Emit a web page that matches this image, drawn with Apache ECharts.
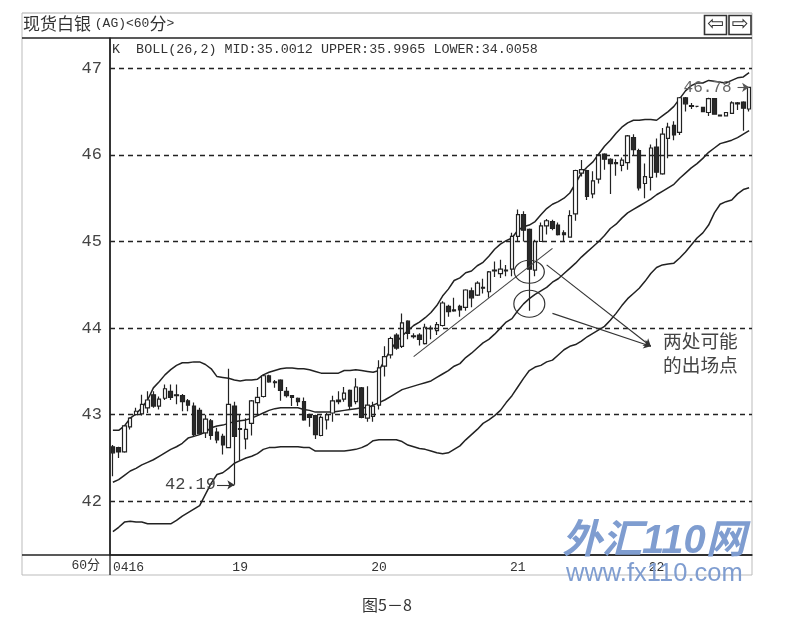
<!DOCTYPE html>
<html><head><meta charset="utf-8">
<style>html,body{margin:0;padding:0;background:#fff}#c{width:806px;height:636px}</style>
<script src="https://cdn.jsdelivr.net/npm/echarts@6/dist/echarts.min.js"></script>
</head><body><div id="c"></div>
<script>
const open=[42.63,42.62,42.57,42.86,43.00,43.01,43.08,43.23,43.10,43.19,43.27,43.23,43.22,43.16,43.10,43.05,42.79,42.93,42.80,42.75,
42.62,43.10,42.83,42.72,42.90,43.14,43.21,43.45,43.38,43.40,43.27,43.22,43.19,43.15,43.00,42.99,42.76,42.94,43.02,43.17,
43.18,43.28,43.15,43.31,42.96,42.98,43.11,43.56,43.69,43.92,43.79,44.08,43.91,43.92,43.82,44.00,43.97,44.03,44.25,44.21,
44.25,44.24,44.43,44.38,44.47,44.42,44.67,44.63,44.67,44.68,45.06,45.31,45.14,44.67,45.00,45.18,45.23,45.19,45.10,45.05,
45.32,45.79,45.82,45.55,45.72,46.01,45.95,45.91,45.88,45.91,46.20,46.05,45.67,45.74,46.09,45.78,46.19,46.34,46.26,46.66,
46.57,46.56,46.55,46.49,46.65,46.46,46.45,46.48,46.60,46.61,46.53];
const close=[42.56,42.57,42.87,42.96,43.04,43.12,43.17,43.10,43.18,43.30,43.20,43.22,43.15,43.11,42.77,42.78,42.95,42.76,42.71,42.65,
43.12,42.75,42.84,42.83,43.16,43.20,43.45,43.38,43.37,43.28,43.22,43.20,43.15,42.94,42.97,42.77,42.97,43.00,43.16,43.15,
43.25,43.10,43.32,42.97,43.11,43.10,43.54,43.67,43.88,43.77,44.06,43.94,43.90,43.87,44.01,43.99,44.04,44.29,44.19,44.20,
44.21,44.44,44.35,44.52,44.46,44.65,44.66,44.68,44.66,45.06,45.31,45.13,44.68,45.00,45.18,45.24,45.15,45.08,45.08,45.30,
45.82,45.83,45.52,45.70,46.00,45.95,45.90,45.90,45.94,46.22,46.06,45.62,45.75,46.08,45.80,46.24,46.32,46.23,46.66,46.59,
46.56,46.56,46.50,46.65,46.47,46.45,46.49,46.60,46.59,46.54,46.78];
const low=[42.29,42.50,42.56,42.83,42.99,42.99,43.02,43.08,43.06,43.17,43.17,43.12,43.04,43.04,42.75,42.77,42.73,42.71,42.67,42.54,
42.62,42.19,42.47,42.60,42.76,43.00,43.20,43.37,43.31,43.16,43.20,43.10,43.10,42.93,42.86,42.72,42.75,42.83,42.92,43.12,
43.15,43.06,43.12,42.96,42.92,42.92,43.06,43.44,43.65,43.75,43.77,43.87,43.88,43.80,43.81,43.87,43.92,44.02,44.13,44.19,
44.13,44.20,44.24,44.37,44.40,44.35,44.59,44.58,44.60,44.60,45.00,45.00,44.20,44.60,45.00,45.08,45.13,45.07,45.00,45.05,
45.24,45.75,45.48,45.50,45.67,45.83,45.55,45.76,45.81,45.83,46.00,45.59,45.50,45.59,45.74,45.77,45.96,46.17,46.23,46.50,
46.53,46.55,46.50,46.45,46.47,46.45,46.45,46.48,46.52,46.28,46.50];
const high=[42.65,42.63,42.88,42.97,43.08,43.23,43.27,43.27,43.21,43.35,43.35,43.35,43.24,43.18,43.14,43.08,43.00,42.95,42.85,42.78,
43.53,43.15,43.00,42.96,43.17,43.32,43.47,43.46,43.40,43.41,43.32,43.22,43.20,43.20,43.01,43.00,42.99,43.02,43.22,43.27,
43.32,43.29,43.42,43.32,43.33,43.15,43.63,43.79,43.90,43.94,44.17,44.09,43.94,43.94,44.05,44.03,44.07,44.31,44.27,44.35,
44.27,44.45,44.47,44.54,44.57,44.66,44.77,44.79,44.73,45.10,45.37,45.35,45.15,45.02,45.22,45.26,45.25,45.22,45.13,45.36,
45.83,45.94,45.83,45.81,46.01,46.02,45.96,45.95,45.97,46.23,46.24,46.07,45.90,46.12,46.19,46.31,46.37,46.39,46.67,46.67,
46.60,46.56,46.55,46.66,46.65,46.46,46.49,46.62,46.61,46.62,46.78];
const upper=[42.82,42.82,42.87,42.96,43.01,43.08,43.17,43.31,43.38,43.46,43.52,43.57,43.60,43.60,43.61,43.61,43.58,43.53,43.44,43.43,
43.42,43.40,43.39,43.40,43.40,43.41,43.46,43.49,43.51,43.53,43.54,43.54,43.53,43.53,43.52,43.50,43.48,43.48,43.48,43.48,
43.51,43.51,43.52,43.51,43.50,43.49,43.51,43.63,43.75,43.84,43.91,43.97,44.03,44.07,44.12,44.18,44.26,44.37,44.45,44.55,
44.58,44.64,44.66,44.72,44.76,44.83,44.91,44.97,45.01,45.04,45.13,45.17,45.19,45.23,45.31,45.38,45.43,45.46,45.50,45.56,
45.67,45.79,45.86,45.92,46.01,46.10,46.17,46.25,46.32,46.37,46.40,46.40,46.41,46.41,46.40,46.45,46.50,46.56,46.65,46.74,
46.80,46.83,46.83,46.86,46.85,46.84,46.83,46.86,46.89,46.90,46.95];
const mid=[42.22,42.25,42.30,42.35,42.38,42.42,42.45,42.48,42.52,42.56,42.60,42.63,42.67,42.73,42.75,42.77,42.80,42.85,42.87,42.88,
42.90,42.92,42.93,42.94,42.96,42.99,43.02,43.05,43.07,43.08,43.08,43.08,43.08,43.06,43.05,43.03,43.03,43.03,43.03,43.04,
43.05,43.06,43.07,43.08,43.08,43.11,43.14,43.17,43.21,43.25,43.29,43.31,43.33,43.35,43.37,43.39,43.43,43.47,43.51,43.56,
43.59,43.66,43.71,43.77,43.83,43.87,43.93,44.00,44.07,44.11,44.20,44.28,44.34,44.39,44.43,44.47,44.53,44.57,44.63,44.69,
44.75,44.82,44.88,44.94,45.00,45.07,45.15,45.20,45.27,45.33,45.37,45.41,45.45,45.49,45.54,45.58,45.62,45.66,45.73,45.79,
45.85,45.90,45.96,46.03,46.08,46.13,46.15,46.17,46.20,46.24,46.28];
const lower=[41.65,41.70,41.76,41.77,41.76,41.76,41.74,41.74,41.74,41.74,41.74,41.78,41.83,41.87,41.91,41.95,42.08,42.21,42.31,42.33,
42.38,42.44,42.47,42.50,42.52,42.55,42.60,42.62,42.62,42.63,42.63,42.63,42.63,42.62,42.62,42.58,42.58,42.58,42.58,42.58,
42.58,42.59,42.60,42.62,42.65,42.70,42.71,42.71,42.71,42.71,42.69,42.65,42.63,42.61,42.60,42.58,42.56,42.55,42.56,42.60,
42.64,42.71,42.77,42.83,42.90,42.94,42.99,43.05,43.14,43.22,43.32,43.42,43.51,43.55,43.57,43.61,43.63,43.69,43.75,43.79,
43.81,43.85,43.90,43.94,43.98,44.02,44.09,44.17,44.26,44.34,44.40,44.46,44.54,44.63,44.70,44.73,44.74,44.75,44.81,44.88,
44.96,45.04,45.10,45.19,45.33,45.43,45.46,45.48,45.55,45.60,45.62];
const priceTicks=[42,43,44,45,46,47];
const dayTickIndex=[0,22,46,70,94];
const dayTickLabel=['0416','19','20','21','22'];
const categories=open.map((_,i)=>{const k=dayTickIndex.indexOf(i);return k>=0?dayTickLabel[k]:'b'+i;});
const candles=open.map((o,i)=>[o,close[i],low[i],high[i]]);
const ink='#222';

const chart=echarts.init(document.getElementById('c'));
const lineStyleBand={color:ink,width:1.5};
function seg(a,b,arrow,color){return [{coord:a,symbol:'none'},{coord:b,symbol:arrow?'arrow':'none',symbolSize:arrow?7:0,lineStyle:{color:color||'#333',width:1.1,type:'solid'}}];}
chart.setOption({
  animation:false,
  backgroundColor:'#fff',
  textStyle:{fontFamily:'"Liberation Mono","Noto Sans CJK SC"'},
  title:[
    {text:'{a|现货白银 }{b|(AG)<60}{a|分}{b|>}',left:23,top:15,padding:0,textStyle:{fontWeight:'normal',rich:{a:{fontSize:17,fontWeight:'normal',fontFamily:'"Noto Sans CJK SC"',color:'#333'},b:{fontSize:13,fontWeight:'normal',fontFamily:'"Liberation Mono"',color:'#333'}}}},
    {text:'K  BOLL(26,2) MID:35.0012 UPPER:35.9965 LOWER:34.0058',left:112,top:43,padding:0,textStyle:{fontSize:13.4,fontWeight:'normal',fontFamily:'"Liberation Mono"',color:'#333'}},
    {text:'图5－8',left:362,top:597,padding:0,textStyle:{fontSize:16,fontWeight:'normal',fontFamily:'"Noto Sans CJK SC"',color:'#333'}}
  ],
  grid:{left:110,right:54,top:38,bottom:81,containLabel:false},
  xAxis:{type:'category',data:categories,boundaryGap:true,
    axisLine:{lineStyle:{color:ink,width:1.5},onZero:false},axisTick:{show:false},splitLine:{show:false},
    axisLabel:{interval:(i)=>dayTickIndex.includes(i),alignMinLabel:'left',hideOverlap:false,fontSize:13,color:'#333',margin:6,fontFamily:'"Liberation Mono"'}},
  yAxis:{type:'value',min:41.38,max:47.35,scale:true,
    axisLine:{show:true,lineStyle:{color:ink,width:1.5}},
    axisTick:{show:false,customValues:priceTicks},
    splitLine:{show:false},
    axisLabel:{customValues:priceTicks,fontSize:17,color:'#444',margin:8,fontFamily:'"Liberation Mono"',formatter:v=>String(Math.round(v))}},
  series:[
    {type:'line',name:'grid',data:[],silent:true,markLine:{silent:true,symbol:'none',animation:false,label:{show:false},
       lineStyle:{color:'#222',width:1.4,type:[5,4]},data:priceTicks.map(v=>({yAxis:v}))},z:1},
    {type:'line',name:'UPPER',data:upper,showSymbol:false,lineStyle:lineStyleBand,itemStyle:{color:ink},z:2,silent:true},
    {type:'line',name:'MID',data:mid,showSymbol:false,lineStyle:lineStyleBand,itemStyle:{color:ink},z:2,silent:true},
    {type:'line',name:'LOWER',data:lower,showSymbol:false,lineStyle:lineStyleBand,itemStyle:{color:ink},z:2,silent:true},
    {type:'candlestick',name:'K',data:candles,barWidth:4,z:3,silent:true,
      itemStyle:{color:'#fff',color0:'#2a2a2a',borderColor:'#222',borderColor0:'#222',borderWidth:1.2}},
    {type:'line',name:'notes',data:[],silent:true,z:5,
      markLine:{silent:true,animation:false,label:{show:false},symbol:'none',lineStyle:{color:'#333',width:1.1,type:'solid'},
        data:[
          seg([52,43.67],[76,44.92],false,'#444'),
          seg([75,44.73],[93,43.79],true),
          seg([76,44.17],[93,43.79],true),
          seg([18,42.19],[21,42.19],true),
          seg([108,46.78],[110,46.78],true,'#555')
        ]},
      markPoint:{silent:true,animation:false,
        data:[
          {coord:[72,44.65],symbol:'circle',symbolSize:[30,23],itemStyle:{color:'rgba(0,0,0,0)',borderColor:'#333',borderWidth:1.1},label:{show:false}},
          {coord:[72,44.28],symbol:'circle',symbolSize:[31,27],itemStyle:{color:'rgba(0,0,0,0)',borderColor:'#333',borderWidth:1.1},label:{show:false}},
          {coord:[18,42.19],symbol:'circle',symbolSize:0,itemStyle:{color:'rgba(0,0,0,0)'},label:{show:true,position:'left',distance:1,formatter:'42.19',fontSize:17,color:'#444',fontFamily:'"Liberation Mono"'}},
          {coord:[108,46.78],symbol:'circle',symbolSize:0,itemStyle:{color:'rgba(0,0,0,0)'},label:{show:true,position:'left',distance:6,formatter:'46.78',fontSize:16,color:'#666',fontFamily:'"Liberation Mono"'}}
        ]}}
  ],
  graphic:[
    {type:'line',z:0,silent:true,shape:{x1:22,y1:13,x2:752,y2:13},style:{stroke:'#aaa',lineWidth:1.2}},
    {type:'line',z:0,silent:true,shape:{x1:22,y1:13,x2:22,y2:575},style:{stroke:'#bbb',lineWidth:1}},
    {type:'line',z:0,silent:true,shape:{x1:752,y1:13,x2:752,y2:575},style:{stroke:'#bbb',lineWidth:1}},
    {type:'line',z:0,silent:true,shape:{x1:22,y1:575,x2:752,y2:575},style:{stroke:'#bbb',lineWidth:1}},
    {type:'line',z:6,silent:true,shape:{x1:22,y1:38,x2:752,y2:38},style:{stroke:ink,lineWidth:1.5}},
    {type:'line',z:6,silent:true,shape:{x1:22,y1:555,x2:752,y2:555},style:{stroke:ink,lineWidth:1.5}},
    {type:'line',z:6,silent:true,shape:{x1:110,y1:38,x2:110,y2:575},style:{stroke:ink,lineWidth:1.3}},
    {type:'rect',z:6,silent:true,shape:{x:704.5,y:15.5,width:22,height:19},style:{fill:'#fff',stroke:'#333',lineWidth:1.6}},
    {type:'rect',z:6,silent:true,shape:{x:729,y:15.5,width:22,height:19},style:{fill:'#fff',stroke:'#333',lineWidth:1.6}},
    {type:'text',z:7,silent:true,x:715.5,y:25,style:{text:'⇦',font:'20px "DejaVu Sans"',fill:'#333',align:'center',verticalAlign:'middle'}},
    {type:'text',z:7,silent:true,x:740,y:25,style:{text:'⇨',font:'20px "DejaVu Sans"',fill:'#333',align:'center',verticalAlign:'middle'}},
    {type:'text',z:6,silent:true,x:100,y:566,style:{text:'60分',font:'13px "Liberation Mono","Noto Sans CJK SC"',fill:'#333',align:'right',verticalAlign:'middle'}},
    {type:'text',z:6,silent:true,x:663,y:341,style:{text:'两处可能',font:'18.7px "Noto Sans CJK SC"',fill:'#444',verticalAlign:'middle'}},
    {type:'text',z:6,silent:true,x:663,y:365,style:{text:'的出场点',font:'18.7px "Noto Sans CJK SC"',fill:'#444',verticalAlign:'middle'}},
    {type:'text',z:9,silent:true,x:562,y:542,style:{text:'外汇110网',font:'italic bold 40px "Liberation Sans","Noto Sans CJK SC"',fill:'#7f9dd0',verticalAlign:'middle'}},
    {type:'text',z:9,silent:true,x:566,y:574,style:{text:'www.fx110.com',font:'25.5px "Liberation Sans"',fill:'#7f9dd0',verticalAlign:'middle'}}
  ]
});
</script></body></html>
